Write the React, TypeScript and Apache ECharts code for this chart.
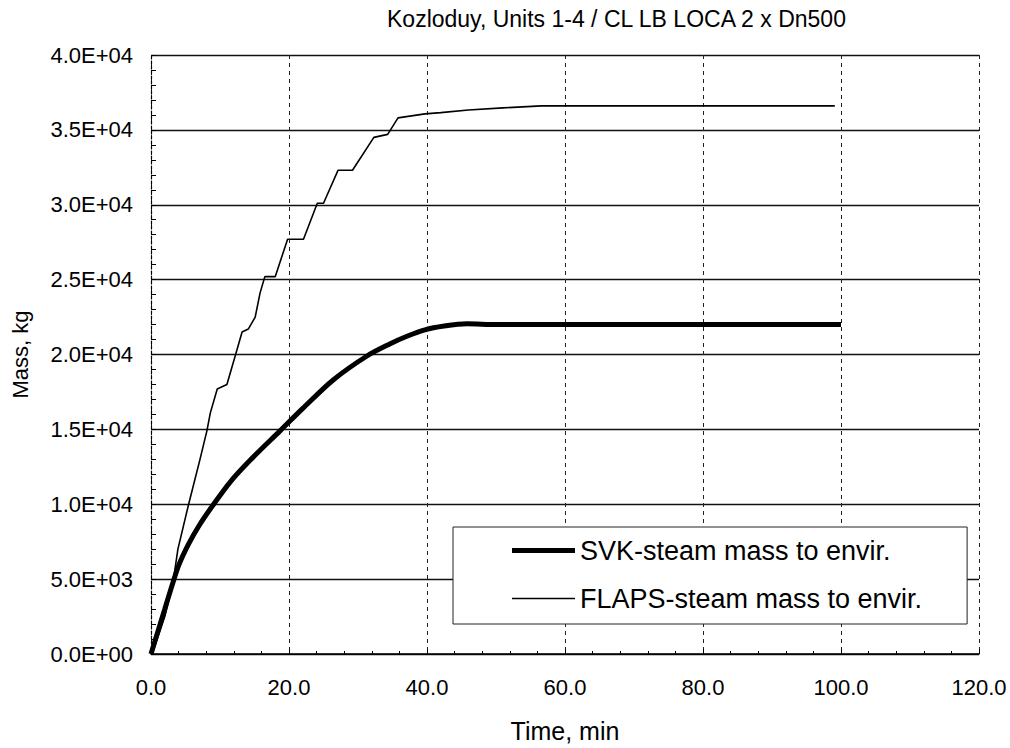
import React, { useEffect, useRef } from "react";
import * as echarts from "echarts";

const titleText = "Kozloduy, Units 1-4 / CL LB LOCA 2 x Dn500";
const seriesNames = ["SVK-steam mass to envir.", "FLAPS-steam mass to envir."];

const svkTime = [0, 1, 2, 3, 4, 5.4, 7, 9, 11.5, 14.5, 18.7, 22, 26.4, 31.3, 34.6, 37, 39.7, 42.5, 45.8, 50, 60, 70, 80, 90, 100];
const svkMass = [0, 1500, 3000, 4500, 5900, 7300, 8600, 9950, 11500, 13000, 14900, 16400, 18300, 19900, 20700, 21200, 21650, 21900, 22050, 22000, 22000, 22000, 22000, 22000, 22000];

const flapsTime = [0, 0.3, 2.0, 3.2, 3.9, 5.4, 7.1, 8.1, 8.6, 9.6, 11.0, 12.2, 13.2, 14.1, 15.1, 15.8, 16.5, 18.0, 19.8, 22.1, 24.1, 25.0, 27.1, 29.2, 32.3, 34.3, 35.8, 39.7, 42.0, 46.0, 51.0, 56.6, 70, 85, 99.1];
const flapsMass = [0, 200, 2500, 4800, 7000, 9900, 13000, 14900, 16100, 17700, 18000, 19900, 21500, 21700, 22500, 24100, 25200, 25200, 27700, 27700, 30100, 30100, 32300, 32300, 34500, 34700, 35800, 36070, 36150, 36330, 36470, 36600, 36600, 36600, 36600];

const xTicks = { min: 0, max: 120, interval: 20 };
const yTicks = { min: 0, max: 40000, interval: 5000 };

function fmtExp(v: number): string {
  if (v === 0) return "0.0E+00";
  const e = Math.floor(Math.log10(v) + 1e-9);
  const m = v / Math.pow(10, e);
  return m.toFixed(1) + "E+" + String(e).padStart(2, "0");
}

const FONT = "Liberation Sans";

export default function App() {
  const ref = useRef<HTMLDivElement>(null);
  useEffect(() => {
    if (!ref.current) return;
    const chart = echarts.init(ref.current, undefined, { renderer: "svg" });
    const pair = (t: number[], m: number[]) => t.map((v, i) => [v, m[i]]);
    chart.setOption({
      animation: false,
      backgroundColor: "#ffffff",
      title: {
        text: titleText,
        left: 382,
        top: 2,
        textStyle: { fontFamily: FONT, fontSize: 23, fontWeight: "normal", color: "#000" },
      },
      grid: { left: 151, right: 31, top: 55, bottom: 93 },
      legend: {
        left: 453,
        top: 527,
        orient: "vertical",
        data: [
          { name: seriesNames[0], icon: "path://M0,0H63V5H0Z" },
          { name: seriesNames[1], icon: "path://M0,0H63V1.6H0Z" },
        ],
        itemWidth: 63,
        itemHeight: 14,
        itemGap: 21,
        padding: [10, 45, 12, 59],
        borderColor: "#222",
        borderWidth: 1,
        backgroundColor: "#fff",
        itemStyle: { color: "#000", borderWidth: 0 },
        textStyle: { fontFamily: FONT, fontSize: 27, color: "#000" },
      },
      xAxis: {
        type: "value",
        min: xTicks.min,
        max: xTicks.max,
        interval: xTicks.interval,
        name: "Time, min",
        nameLocation: "middle",
        nameGap: 64,
        nameTextStyle: { fontFamily: FONT, fontSize: 25, color: "#000" },
        axisLine: { show: true, lineStyle: { color: "#000", width: 1.5 } },
        axisTick: { show: true, inside: true, length: 5, lineStyle: { color: "#000" } },
        minorTick: { show: true, splitNumber: 5, length: 3, lineStyle: { color: "#000" } },
        axisLabel: {
          fontFamily: FONT,
          fontSize: 22,
          color: "#000",
          margin: 22,
          formatter: (v: number) => v.toFixed(1),
        },
        splitLine: { show: true, lineStyle: { color: "#222", width: 1, type: [4, 4] } },
      },
      yAxis: {
        type: "value",
        min: yTicks.min,
        max: yTicks.max,
        interval: yTicks.interval,
        name: "Mass, kg",
        nameLocation: "middle",
        nameGap: 120,
        nameTextStyle: { fontFamily: FONT, fontSize: 22, color: "#000" },
        axisLine: { show: true, lineStyle: { color: "#000", width: 1.2, type: [3, 2] } },
        axisTick: { show: true, inside: true, length: 5, lineStyle: { color: "#000" } },
        minorTick: { show: true, splitNumber: 5, length: 5, lineStyle: { color: "#000", width: 1 } },
        axisLabel: {
          fontFamily: FONT,
          fontSize: 22,
          color: "#000",
          margin: 18,
          formatter: (v: number) => fmtExp(v),
        },
        splitLine: { show: true, lineStyle: { color: "#111", width: 1.3 } },
      },
      series: [
        {
          name: seriesNames[0],
          type: "line",
          data: pair(svkTime, svkMass),
          symbol: "none",
          smooth: 0.3,
          lineStyle: { color: "#000", width: 5 },
          itemStyle: { color: "#000" },
          z: 3,
        },
        {
          name: seriesNames[1],
          type: "line",
          data: pair(flapsTime, flapsMass),
          symbol: "none",
          lineStyle: { color: "#000", width: 1.6 },
          itemStyle: { color: "#000" },
          z: 4,
        },
      ],
    });
    return () => chart.dispose();
  }, []);
  return (
    <div
      ref={ref}
      style={{ position: "fixed", left: 0, top: 0, width: 1010, height: 748, background: "#fff" }}
    />
  );
}
